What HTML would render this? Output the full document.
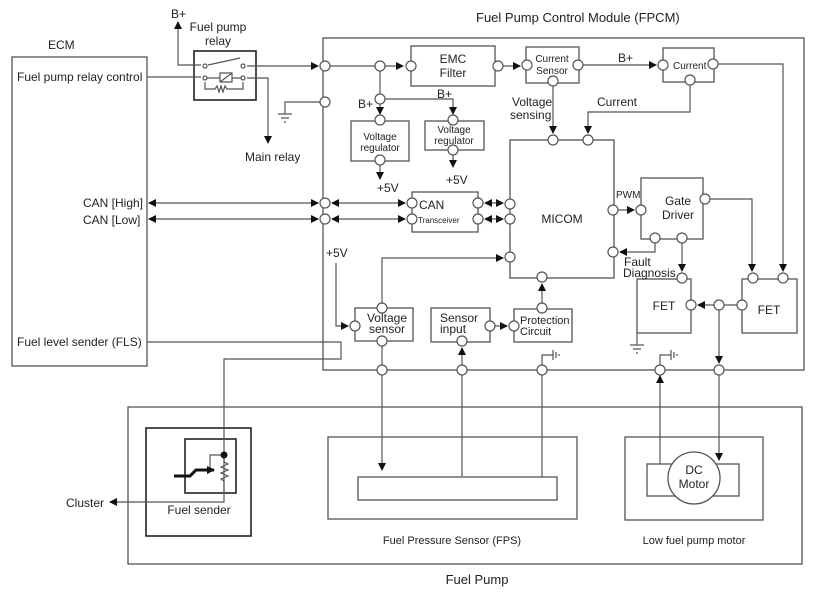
<!DOCTYPE html>
<html><head><meta charset="utf-8"><style>
html,body{margin:0;padding:0;background:#fff;}
svg{display:block;}
text{font-family:"Liberation Sans",Arial,sans-serif;fill:#222;}
</style></head><body>
<svg width="820" height="593" viewBox="0 0 820 593" xmlns="http://www.w3.org/2000/svg">
<defs>
<marker id="a" markerWidth="8" markerHeight="8" refX="7" refY="4" orient="auto" markerUnits="userSpaceOnUse"><path d="M0,0 L8,4 L0,8 z" fill="#111"/></marker>
<marker id="b" markerWidth="8" markerHeight="8" refX="1" refY="4" orient="auto" markerUnits="userSpaceOnUse"><path d="M8,0 L0,4 L8,8 z" fill="#111"/></marker>
</defs>
<g fill="none" stroke="#555" stroke-width="1.3">
<!-- main boxes -->
<rect x="12" y="57" width="135" height="309"/>
<rect x="323" y="38" width="481" height="332"/>
<rect x="128" y="407" width="674" height="157"/>
<rect x="146" y="428" width="105" height="108" stroke="#222" stroke-width="1.6"/>
<rect x="185" y="439" width="51" height="54" stroke="#222" stroke-width="1.6"/>
<rect x="328" y="437" width="249" height="82"/>
<rect x="358" y="477" width="199" height="23"/>
<rect x="625" y="437" width="138" height="83"/>
<rect x="647" y="464" width="92" height="32"/>
<!-- relay -->
<rect x="194" y="51" width="62" height="49" stroke="#222" stroke-width="1.6"/>
<!-- inner boxes -->
<rect x="411" y="46" width="84" height="40"/>
<rect x="526" y="47" width="53" height="36"/>
<rect x="663" y="48" width="51" height="34"/>
<rect x="351" y="121" width="58" height="40"/>
<rect x="425" y="121" width="59" height="29"/>
<rect x="412" y="192" width="66" height="40"/>
<rect x="510" y="140" width="104" height="138"/>
<rect x="641" y="178" width="62" height="61"/>
<rect x="637" y="279" width="54" height="54"/>
<rect x="742" y="279" width="55" height="54"/>
<rect x="355" y="308" width="58" height="33"/>
<rect x="431" y="308" width="59" height="34"/>
<rect x="514" y="309" width="58" height="33"/>
</g>
<g fill="none" stroke="#555" stroke-width="1.2">
<!-- relay wiring -->
<path d="M178,22 V60" marker-start="url(#b)"/>
<path d="M178,60 V65 H201"/>
<path d="M208,65 L240,58"/>
<path d="M247,66 H318" marker-end="url(#a)"/>
<path d="M147,77 H201"/>
<path d="M205,78 H220 M232,78 H243"/>
<path d="M220,73 h12 v9 h-12 z M220,82 L232,73"/>
<path d="M205,82 V89 H215 l2,-3 2,6 2,-6 2,6 2,-6 2,3 H243 V82"/>
<path d="M247,78 H268 V143" marker-end="url(#a)"/>
<!-- ground left -->
<path d="M320,102 H285 V114 M278,114 h14 M281,118 h8 M284,122 h2"/>
<!-- EMC chain -->
<path d="M330,66 H375 M385,66 H403" marker-end="url(#a)"/>
<path d="M503,66 H520" marker-end="url(#a)"/>
<path d="M583,65 H656" marker-end="url(#a)"/>
<path d="M718,64 H783 V271" marker-end="url(#a)"/>
<path d="M690,85 V112 H588 V133" marker-end="url(#a)"/>
<path d="M553,86 V133" marker-end="url(#a)"/>
<!-- regulators -->
<path d="M380,71 V94"/>
<path d="M380,104 V114" marker-end="url(#a)"/>
<path d="M385,99 H453 V114" marker-end="url(#a)"/>
<path d="M380,165 V179" marker-end="url(#a)"/>
<path d="M453,155 V167" marker-end="url(#a)"/>
<!-- CAN -->
<path d="M149,203 H318" marker-start="url(#b)" marker-end="url(#a)"/>
<path d="M149,219 H318" marker-start="url(#b)" marker-end="url(#a)"/>
<path d="M332,203 H405" marker-start="url(#b)" marker-end="url(#a)"/>
<path d="M332,219 H405" marker-start="url(#b)" marker-end="url(#a)"/>
<path d="M485,203 H503" marker-start="url(#b)" marker-end="url(#a)"/>
<path d="M485,219 H503" marker-start="url(#b)" marker-end="url(#a)"/>
<!-- MICOM right -->
<path d="M618,210 H634" marker-end="url(#a)"/>
<path d="M655,243 V252 H620" marker-end="url(#a)"/>
<path d="M682,243 V271" marker-end="url(#a)"/>
<path d="M710,199 H752 V271" marker-end="url(#a)"/>
<path d="M737,305 H724 M714,305 H698" marker-end="url(#a)"/>
<path d="M719,310 V363" marker-end="url(#a)"/>
<path d="M719,375 V460" marker-end="url(#a)"/>
<path d="M637,333 V345 M630,345 h14 M633,349 h8 M636,353 h2"/>
<!-- lower left -->
<path d="M336,263 V326 H348" marker-end="url(#a)"/>
<path d="M382,303 V258 H503" marker-end="url(#a)"/>
<path d="M382,346 V365 M382,375 V470" marker-end="url(#a)"/>
<path d="M462,476 V375 M462,365 V348" marker-end="url(#a)"/>
<path d="M495,326 H507" marker-end="url(#a)"/>
<path d="M542,303 V284" marker-end="url(#a)"/>
<path d="M542,375 V477"/>
<path d="M542,365 V355 H553 M553,350 v10 M556,352 v6 M559,354 v2"/>
<path d="M660,464 V375 M660,365 V355 H671 M671,350 v10 M674,352 v6 M677,354 v2"/>
<path d="M660,383 V376" marker-end="url(#a)"/>
<!-- FLS -->
<path d="M147,342 H341 V359 H224 V455"/>
<path d="M224,455 V502 H110" marker-end="url(#a)"/>
<path d="M224,455 H210 V470 M224,455 v7 l4,2 -7,3 7,3 -7,3 7,3 -7,3 3,2 V493"/>
</g>
<path d="M174,476 H190 l6,-6 H214" fill="none" stroke="#111" stroke-width="3" marker-end="url(#a)"/>
<circle cx="224" cy="455" r="3.5" fill="#111"/>
<circle cx="694" cy="478" r="26" fill="#fff" stroke="#555" stroke-width="1.3"/>
<g fill="#fff" stroke="#555" stroke-width="1.2">
<circle cx="205" cy="66" r="2"/><circle cx="243" cy="66" r="2"/><circle cx="205" cy="78" r="2"/><circle cx="243" cy="78" r="2"/>
<circle cx="325" cy="66" r="5"/><circle cx="325" cy="102" r="5"/><circle cx="325" cy="203" r="5"/><circle cx="325" cy="219" r="5"/>
<circle cx="380" cy="66" r="5"/><circle cx="411" cy="66" r="5"/><circle cx="498" cy="66" r="5"/><circle cx="527" cy="65" r="5"/>
<circle cx="578" cy="65" r="5"/><circle cx="663" cy="65" r="5"/><circle cx="713" cy="64" r="5"/><circle cx="690" cy="80" r="5"/><circle cx="553" cy="81" r="5"/>
<circle cx="380" cy="99" r="5"/><circle cx="380" cy="120" r="5"/><circle cx="453" cy="120" r="5"/><circle cx="380" cy="160" r="5"/><circle cx="453" cy="150" r="5"/>
<circle cx="412" cy="203" r="5"/><circle cx="412" cy="219" r="5"/><circle cx="478" cy="203" r="5"/><circle cx="478" cy="219" r="5"/>
<circle cx="510" cy="204" r="5"/><circle cx="510" cy="219" r="5"/><circle cx="510" cy="257" r="5"/><circle cx="542" cy="277" r="5"/>
<circle cx="553" cy="140" r="5"/><circle cx="588" cy="140" r="5"/><circle cx="613" cy="210" r="5"/><circle cx="613" cy="252" r="5"/>
<circle cx="641" cy="210" r="5"/><circle cx="705" cy="199" r="5"/><circle cx="655" cy="238" r="5"/><circle cx="682" cy="238" r="5"/>
<circle cx="682" cy="278" r="5"/><circle cx="753" cy="278" r="5"/><circle cx="783" cy="278" r="5"/>
<circle cx="691" cy="305" r="5"/><circle cx="719" cy="305" r="5"/><circle cx="742" cy="305" r="5"/>
<circle cx="355" cy="326" r="5"/><circle cx="382" cy="308" r="5"/><circle cx="382" cy="341" r="5"/>
<circle cx="462" cy="341" r="5"/><circle cx="490" cy="326" r="5"/><circle cx="514" cy="326" r="5"/><circle cx="542" cy="308" r="5"/>
<circle cx="382" cy="370" r="5"/><circle cx="462" cy="370" r="5"/><circle cx="542" cy="370" r="5"/><circle cx="660" cy="370" r="5"/><circle cx="719" cy="370" r="5"/>
</g>
<g font-size="12">
<text x="476" y="22" font-size="13">Fuel Pump Control Module (FPCM)</text>
<text x="48" y="49">ECM</text>
<text x="171" y="18">B+</text>
<text x="218" y="31" text-anchor="middle">Fuel pump</text>
<text x="218" y="45" text-anchor="middle">relay</text>
<text x="245" y="161">Main relay</text>
<text x="17" y="81">Fuel pump relay control</text>
<text x="83" y="207">CAN [High]</text>
<text x="83" y="224">CAN [Low]</text>
<text x="17" y="346">Fuel level sender (FLS)</text>
<text x="453" y="63" text-anchor="middle">EMC</text>
<text x="453" y="77" text-anchor="middle">Filter</text>
<text x="552" y="62" text-anchor="middle" font-size="10" fill="#666">Current</text>
<text x="552" y="74" text-anchor="middle" font-size="10" fill="#666">Sensor</text>
<text x="618" y="62">B+</text>
<text x="673" y="69" font-size="10">Current</text>
<text x="512" y="106">Voltage</text>
<text x="510" y="119">sensing</text>
<text x="597" y="106">Current</text>
<text x="358" y="108">B+</text>
<text x="437" y="98">B+</text>
<text x="380" y="140" text-anchor="middle" font-size="10">Voltage</text>
<text x="380" y="151" text-anchor="middle" font-size="10">regulator</text>
<text x="454" y="133" text-anchor="middle" font-size="10">Voltage</text>
<text x="454" y="144" text-anchor="middle" font-size="10">regulator</text>
<text x="377" y="192">+5V</text>
<text x="446" y="184">+5V</text>
<text x="419" y="209">CAN</text>
<text x="418" y="223" font-size="8">Transceiver</text>
<text x="562" y="223" text-anchor="middle">MICOM</text>
<text x="616" y="198" font-size="10">PWM</text>
<text x="678" y="205" text-anchor="middle">Gate</text>
<text x="678" y="219" text-anchor="middle">Driver</text>
<text x="624" y="266">Fault</text>
<text x="623" y="277">Diagnosis</text>
<text x="664" y="310" text-anchor="middle">FET</text>
<text x="769" y="314" text-anchor="middle">FET</text>
<text x="326" y="257">+5V</text>
<text x="387" y="322" text-anchor="middle">Voltage</text>
<text x="387" y="333" text-anchor="middle">sensor</text>
<text x="440" y="322">Sensor</text>
<text x="440" y="333">input</text>
<text x="520" y="324" font-size="11">Protection</text>
<text x="520" y="335" font-size="11">Circuit</text>
<text x="66" y="507">Cluster</text>
<text x="199" y="514" text-anchor="middle">Fuel sender</text>
<text x="452" y="544" text-anchor="middle" font-size="11">Fuel Pressure Sensor (FPS)</text>
<text x="694" y="544" text-anchor="middle" font-size="11">Low fuel pump motor</text>
<text x="694" y="474" text-anchor="middle">DC</text>
<text x="694" y="488" text-anchor="middle">Motor</text>
<text x="477" y="584" text-anchor="middle" font-size="13">Fuel Pump</text>
</g>
</svg>
</body></html>
